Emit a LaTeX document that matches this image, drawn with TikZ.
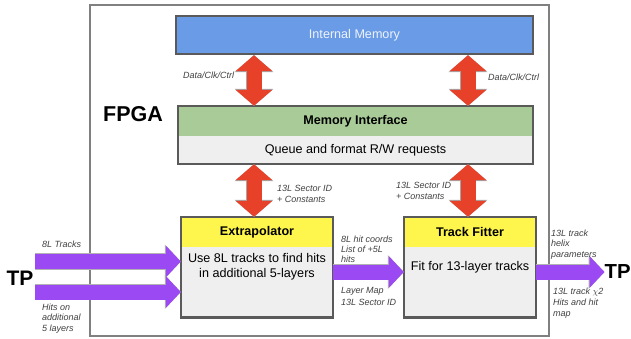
\documentclass[tikz,border=0pt]{standalone}
\usepackage{fontspec}
\setmainfont{Liberation Sans}
\usetikzlibrary{arrows.meta,calc}

\definecolor{memblue}{HTML}{6A9BE7}
\definecolor{ifgreen}{HTML}{A8CB97}
\definecolor{hdyellow}{HTML}{FFF64D}
\definecolor{bodygray}{HTML}{EFEFEF}
\definecolor{busred}{HTML}{E8412A}
\definecolor{flowpurple}{HTML}{9B49F2}
\definecolor{edgegray}{HTML}{5A5A5A}
\definecolor{labelgray}{HTML}{404040}

\tikzset{
  x=1pt, y=-1pt,
  blockedge/.style={draw=edgegray, line width=2.3pt},
  bigtext/.style={font=\fontsize{12.6}{15}\selectfont},
  headtext/.style={font=\fontsize{12.6}{15}\selectfont\bfseries},
  sig/.style={font=\fontsize{9}{10.8}\selectfont\itshape, text=labelgray,
              inner sep=0pt, align=left, anchor=west},
  busarrow/.style={busred, line width=15pt,
              {Triangle[width=36pt,length=16pt]}-{Triangle[width=36pt,length=16pt]},
              preaction={draw=gray!70, line width=16.4pt,
              {Triangle[width=38pt,length=17pt]}-{Triangle[width=38pt,length=17pt]}}},
  flowarrow/.style={flowpurple, line width=15pt,
              -{Triangle[width=31pt,length=15pt]},
              preaction={draw=gray!60, line width=16.2pt,
              -{Triangle[width=33pt,length=16pt]}}},
}

\begin{document}
\begin{tikzpicture}
\useasboundingbox (0,0) rectangle (631,338);

% FPGA boundary
\draw[draw=gray, line width=2pt] (90,5) rectangle (549,336);
\node[font=\fontsize{21.5}{24}\selectfont\bfseries] (fpga) at (133,114) {FPGA};

% Internal memory
\node[blockedge, fill=memblue, minimum width=357pt, minimum height=38pt,
      inner sep=0pt, text=white!88!memblue, bigtext] (im) at (354.5,35) {Internal Memory};

% Memory interface: green header over grey body
\node[fill=ifgreen, minimum width=355pt, minimum height=30pt, inner sep=0pt,
      headtext] (mihead) at (355.5,121) {Memory Interface};
\node[fill=bodygray, minimum width=355pt, minimum height=28pt, inner sep=0pt,
      bigtext] (mibody) at (355.5,150) {Queue and format R/W requests};
\draw[blockedge] (mihead.north west) rectangle (mibody.south east);

% Extrapolator
\node[fill=hdyellow, minimum width=152pt, minimum height=30pt, inner sep=0pt,
      headtext] (exhead) at (257,232) {Extrapolator};
\node[fill=bodygray, minimum width=152pt, minimum height=70pt, inner sep=0pt,
      anchor=north] (exbody) at (exhead.south) {};
\node[bigtext, align=center, inner sep=0pt, anchor=north, yshift=-6pt]
      (extext) at (exbody.north) {Use 8L tracks to find hits\\in additional 5-layers};
\draw[blockedge] (exhead.north west) rectangle (exbody.south east);

% Track fitter
\node[fill=hdyellow, minimum width=132pt, minimum height=30pt, inner sep=0pt,
      headtext] (tfhead) at (470,232) {Track Fitter};
\node[fill=bodygray, minimum width=132pt, minimum height=70pt, inner sep=0pt,
      anchor=north] (tfbody) at (tfhead.south) {};
\node[bigtext, inner sep=0pt] (tftext) at (470,267) {Fit for 13-layer tracks};
\draw[blockedge] (tfhead.north west) rectangle (tfbody.south east);

% Memory buses
\coordinate (busL) at (254,0);
\coordinate (busR) at (468,0);
\draw[busarrow] (busL |- im.south) -- (busL |- mihead.north);
\draw[busarrow] (busR |- im.south) -- (busR |- mihead.north);
\draw[busarrow] (busL |- mibody.south) -- (busL |- exhead.north);
\draw[busarrow] (busR |- mibody.south) -- (busR |- tfhead.north);

% Track-processor inputs and output
\node[font=\fontsize{21}{24}\selectfont\bfseries, inner sep=0pt] (tpin) at (20,278) {TP};
\node[font=\fontsize{20.3}{24}\selectfont\bfseries, inner sep=0pt, anchor=west] (tpout) at (604.5,272) {TP};
\coordinate (in1) at (35,261.5);
\coordinate (in2) at (35,292);
\coordinate (mid) at (0,272);
\draw[flowarrow] (in1) -- (in1 -| exhead.west);
\draw[flowarrow] (in2) -- (in2 -| exhead.west);
\draw[flowarrow] (mid -| exbody.east) -- (mid -| tfbody.west);
\draw[flowarrow] (tpout.west -| tfbody.east) -- (tpout.west);

% Signal labels
\node[sig] (l1) at (183,75) {Data/Clk/Ctrl};
\node[sig] (l2) at (488,77) {Data/Clk/Ctrl};
\node[sig] (l3) at (277,194) {13L Sector ID\\+ Constants};
\node[sig] (l4) at (396,190.5) {13L Sector ID\\+ Constants};
\node[sig] (l5) at (42,244) {8L Tracks};
\node[sig] (l6) at (42,318.5) {Hits on\\additional\\5 layers};
\node[sig, align=left] (l7) at (341,249.5) {8L hit coords\\[-0.8pt]List of +5L\\[-0.8pt]hits};
\node[sig] (l8) at (341,291) {Layer Map};
\node[sig] (l9) at (341,302.5) {13L Sector ID};
\node[sig] (l10) at (551,244.5) {13L track\\helix\\parameters};
\node[sig] (l11) at (553,303.3) {13L track $\chi$2\\Hits and hit\\map};
\end{tikzpicture}
\end{document}
